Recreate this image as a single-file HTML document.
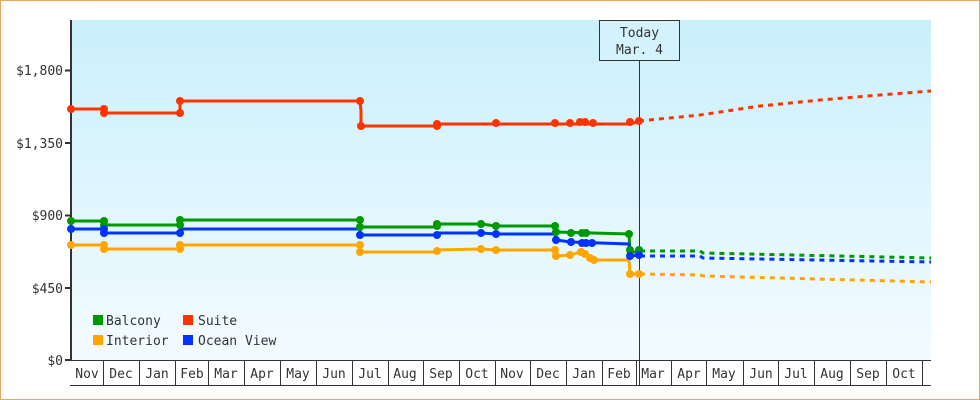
<!DOCTYPE html>
<html><head><meta charset="utf-8"><style>
html,body{margin:0;padding:0;background:#fff}
svg{display:block}
text{font-family:"DejaVu Sans Mono","Liberation Mono",monospace;font-size:13px;fill:#333}
</style></head><body>
<svg width="980" height="400" viewBox="0 0 980 400" xmlns="http://www.w3.org/2000/svg">
<defs><linearGradient id="bg" x1="0" y1="0" x2="0" y2="1"><stop offset="0" stop-color="#caf0fc"/><stop offset="1" stop-color="#f3fbff"/></linearGradient></defs>
<rect x="0.5" y="0.5" width="979" height="399" fill="#fff" stroke="#e8a860"/>
<rect x="71" y="20" width="860" height="340" fill="url(#bg)"/>
<!-- y axis -->
<line x1="71" y1="20" x2="71" y2="361" stroke="#333" stroke-width="2"/>
<g stroke="#333" stroke-width="2">
<line x1="65" y1="70.5" x2="71" y2="70.5"/><line x1="65" y1="143" x2="71" y2="143"/><line x1="65" y1="215.5" x2="71" y2="215.5"/><line x1="65" y1="288" x2="71" y2="288"/><line x1="65" y1="360" x2="71" y2="360"/>
</g>
<g text-anchor="end">
<text x="63" y="75">$1,800</text><text x="63" y="148">$1,350</text><text x="63" y="220">$900</text><text x="63" y="293">$450</text><text x="63" y="365">$0</text>
</g>
<!-- x axis cells -->
<g stroke="#333" stroke-width="1" fill="none">
<line x1="70" y1="360.5" x2="931" y2="360.5"/>
<line x1="70" y1="385.5" x2="931" y2="385.5"/>
<path d="M103.5 360V385M139.5 360V385M175.5 360V385M208.5 360V385M244.5 360V385M280.5 360V385M316.5 360V385M352.5 360V385M388.5 360V385M423.5 360V385M459.5 360V385M495.5 360V385M530.5 360V385M566.5 360V385M602.5 360V385M636.5 360V385M671.5 360V385M706.5 360V385M743.5 360V385M778.5 360V385M814.5 360V385M850.5 360V385M886.5 360V385M922.5 360V385"/>
</g>
<g text-anchor="middle">
<text x="87" y="378">Nov</text><text x="121" y="378">Dec</text><text x="157" y="378">Jan</text><text x="192" y="378">Feb</text><text x="226" y="378">Mar</text><text x="262" y="378">Apr</text><text x="298" y="378">May</text><text x="334" y="378">Jun</text><text x="370" y="378">Jul</text><text x="405" y="378">Aug</text><text x="441" y="378">Sep</text><text x="477" y="378">Oct</text><text x="512" y="378">Nov</text><text x="548" y="378">Dec</text><text x="584" y="378">Jan</text><text x="619" y="378">Feb</text><text x="653" y="378">Mar</text><text x="689" y="378">Apr</text><text x="724" y="378">May</text><text x="761" y="378">Jun</text><text x="796" y="378">Jul</text><text x="832" y="378">Aug</text><text x="868" y="378">Sep</text><text x="904" y="378">Oct</text>
</g>
<!-- today line -->
<line x1="639.5" y1="60" x2="639.5" y2="385" stroke="#333" stroke-width="1"/>
<rect x="599.5" y="20.5" width="80" height="40" fill="#d4f2fc" stroke="#333"/>
<text x="639.5" y="37" text-anchor="middle">Today</text>
<text x="639.5" y="54" text-anchor="middle">Mar. 4</text>
<!-- series -->
<g fill="none" stroke-width="3">
<polyline stroke="#ff3300" points="71,109 104,109 104,113 180,113 180,101 360,101 361,111 361,126 437,126 437,124 631,124 639,121"/>
<polyline stroke="#ff3300" stroke-dasharray="5,5" points="639,121 700,115 760,106 820,100 880,95 931,91"/>
<polyline stroke="#009900" points="71,221 104,221 104,225 180,225 180,220 360,220 360,227 437,227 437,224 481,224 496,226 555,226 556,232 629,234 630,252 640,252"/>
<polyline stroke="#009900" stroke-dasharray="5,5" points="640,251 700,251 703,253 931,258"/>
<polyline stroke="#0033ff" points="71,229 104,229 104,233 180,233 180,229 360,229 360,235 437,235 437,233 481,233 496,234 555,234 556,240 571,242 629,244 630,256 640,255"/>
<polyline stroke="#0033ff" stroke-dasharray="5,5" points="640,256 700,256 703,258 931,262"/>
<polyline stroke="#ffa500" points="71,245 104,245 104,249 180,249 180,245 360,245 360,252 437,252 437,250 481,249 496,250 555,250 556,256 571,255 580,252 590,258 595,260 629,260 630,274 640,274"/>
<polyline stroke="#ffa500" stroke-dasharray="5,5" points="640,274 700,275 703,276 931,282"/>
</g>
<g id="dots">
<g fill="#ff3300">
<circle cx="71" cy="109" r="4"/><circle cx="104" cy="109" r="4"/><circle cx="104" cy="113" r="4"/><circle cx="180" cy="113" r="4"/><circle cx="180" cy="101" r="4"/><circle cx="360" cy="101" r="4"/><circle cx="361" cy="126" r="4"/><circle cx="437" cy="126" r="4"/><circle cx="437" cy="124" r="4"/><circle cx="496" cy="123" r="4"/><circle cx="555" cy="123" r="4"/><circle cx="570" cy="123" r="4"/><circle cx="580" cy="122" r="4"/><circle cx="585" cy="122" r="4"/><circle cx="593" cy="123" r="4"/><circle cx="630" cy="122" r="4"/><circle cx="639" cy="121" r="4"/>
</g>
<g fill="#009900">
<circle cx="71" cy="221" r="4"/><circle cx="104" cy="221" r="4"/><circle cx="104" cy="225" r="4"/><circle cx="180" cy="225" r="4"/><circle cx="180" cy="220" r="4"/><circle cx="360" cy="220" r="4"/><circle cx="360" cy="227" r="4"/><circle cx="437" cy="226" r="4"/><circle cx="437" cy="224" r="4"/><circle cx="481" cy="224" r="4"/><circle cx="496" cy="226" r="4"/><circle cx="555" cy="226" r="4"/><circle cx="556" cy="232" r="4"/><circle cx="571" cy="233" r="4"/><circle cx="582" cy="233" r="4"/><circle cx="586" cy="233" r="4"/><circle cx="629" cy="234" r="4"/><circle cx="630" cy="250" r="4"/><circle cx="639" cy="250" r="4"/>
</g>
<g fill="#0033ff">
<circle cx="71" cy="229" r="4"/><circle cx="104" cy="229" r="4"/><circle cx="104" cy="233" r="4"/><circle cx="180" cy="233" r="4"/><circle cx="360" cy="235" r="4"/><circle cx="437" cy="235" r="4"/><circle cx="481" cy="233" r="4"/><circle cx="496" cy="234" r="4"/><circle cx="556" cy="240" r="4"/><circle cx="571" cy="242" r="4"/><circle cx="582" cy="243" r="4"/><circle cx="586" cy="243" r="4"/><circle cx="592" cy="243" r="4"/><circle cx="630" cy="256" r="4"/><circle cx="639" cy="255" r="4"/>
</g>
<g fill="#ffa500">
<circle cx="71" cy="245" r="4"/><circle cx="104" cy="245" r="4"/><circle cx="104" cy="249" r="4"/><circle cx="180" cy="249" r="4"/><circle cx="180" cy="245" r="4"/><circle cx="360" cy="245" r="4"/><circle cx="360" cy="252" r="4"/><circle cx="437" cy="251" r="4"/><circle cx="481" cy="249" r="4"/><circle cx="496" cy="250" r="4"/><circle cx="555" cy="250" r="4"/><circle cx="556" cy="256" r="4"/><circle cx="570" cy="255" r="4"/><circle cx="581" cy="252" r="4"/><circle cx="585" cy="254" r="4"/><circle cx="590" cy="258" r="4"/><circle cx="594" cy="260" r="4"/><circle cx="630" cy="274" r="4"/><circle cx="639" cy="274" r="4"/>
</g>
</g>
<!-- legend -->
<rect x="93" y="315" width="10" height="10" fill="#009900"/><text x="106" y="325">Balcony</text>
<rect x="183" y="315" width="10" height="10" fill="#ff3300"/><text x="198" y="325">Suite</text>
<rect x="93" y="335" width="10" height="10" fill="#ffa500"/><text x="106" y="345">Interior</text>
<rect x="183" y="335" width="10" height="10" fill="#0033ff"/><text x="198" y="345">Ocean View</text>
</svg>
</body></html>
